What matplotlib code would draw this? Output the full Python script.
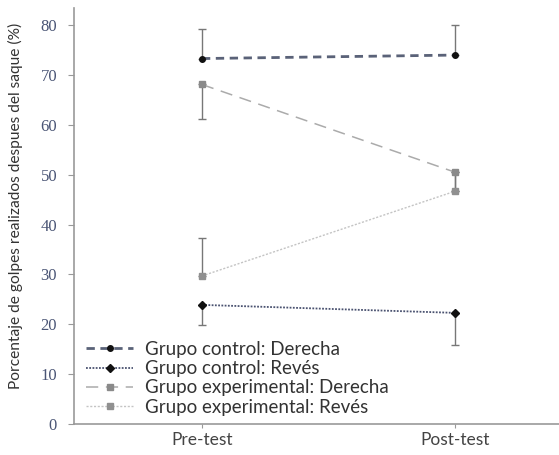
import matplotlib
matplotlib.use("Agg")
import matplotlib.pyplot as plt

phases = ["Pre-test", "Post-test"]
ctrl_der = [73.3, 74.0]
ctrl_der_err_up = [5.9, 6.1]
ctrl_rev = [23.9, 22.3]
ctrl_rev_err_down = [4.1, 6.4]
exp_der = [68.1, 50.5]
exp_der_err_down = [7.0, 3.7]
exp_rev = [29.7, 46.7]
exp_rev_err_up = [7.6, 3.8]
labels = ["Grupo control: Derecha", "Grupo control: Revés",
          "Grupo experimental: Derecha", "Grupo experimental: Revés"]
yticks = [0, 10, 20, 30, 40, 50, 60, 70, 80]

fig = plt.figure(figsize=(5.59, 4.55), dpi=100)
ax = fig.add_axes([0.132, 0.068, 0.868, 0.914])
x = [0, 1]
ecol = "#777777"

# error bars
ax.errorbar(x, ctrl_der, yerr=[[0, 0], ctrl_der_err_up], fmt="none", ecolor=ecol, elinewidth=1, capsize=3, zorder=2)
ax.errorbar(x, ctrl_rev, yerr=[ctrl_rev_err_down, [0, 0]], fmt="none", ecolor=ecol, elinewidth=1, capsize=3, zorder=2)
ax.errorbar(x, exp_der, yerr=[exp_der_err_down, [0, 0]], fmt="none", ecolor=ecol, elinewidth=1, capsize=3, zorder=2)
ax.errorbar(x, exp_rev, yerr=[[0, 0], exp_rev_err_up], fmt="none", ecolor=ecol, elinewidth=1, capsize=3, zorder=2)

l1, = ax.plot(x, ctrl_der, color="#5a6278", lw=2.0, dashes=(3, 2), marker="o", ms=4, mfc="#111111", mec="#111111", zorder=3)
l2, = ax.plot(x, ctrl_rev, color="#4a5270", lw=1.3, linestyle=(0, (1, 0.8)), marker="D", ms=3.6, mfc="#111111", mec="#111111", zorder=3)
l3, = ax.plot(x, exp_der, color="#ababab", lw=1.1, dashes=(8, 5), marker="s", ms=3.8, mfc="#8a8a8a", mec="#8a8a8a", zorder=3)
l4, = ax.plot(x, exp_rev, color="#c4c4c4", lw=1.0, linestyle=(0, (1.5, 1.2)), marker="s", ms=3.8, mfc="#909090", mec="#909090", zorder=3)

ax.set_xlim(-0.506, 1.41)
ax.set_ylim(0, 83.4)
ax.set_xticks(x)
ax.set_xticklabels(phases, fontfamily="Lato", fontsize=12.5, color="#444444")
ax.set_yticks(yticks)
ax.set_yticklabels([str(v) for v in yticks], fontfamily="Liberation Serif", fontsize=12, color="#4a5575")
for s in ["top", "right"]:
    ax.spines[s].set_visible(False)
for s in ["left", "bottom"]:
    ax.spines[s].set_color("#999999")
    ax.spines[s].set_linewidth(1.2)
ax.tick_params(axis="y", length=4, color="#999999", pad=8)
ax.tick_params(axis="x", length=3, color="#999999", pad=3)

fig.text(0.027, 0.547, "Porcentaje de golpes realizados despues del saque (%)", rotation=90,
         ha="center", va="center", fontfamily="Lato", fontsize=11.2, color="#333333")

leg = ax.legend([l1, l2, l3, l4], labels, loc="lower left", bbox_to_anchor=(0.008, 0.0),
                frameon=False, prop={"family": "Lato", "size": 13.5}, labelcolor="#333333",
                handlelength=2.5, handletextpad=0.64, labelspacing=0.12, borderaxespad=0.25,
                borderpad=0.2)

fig.savefig("out.png", dpi=100)
